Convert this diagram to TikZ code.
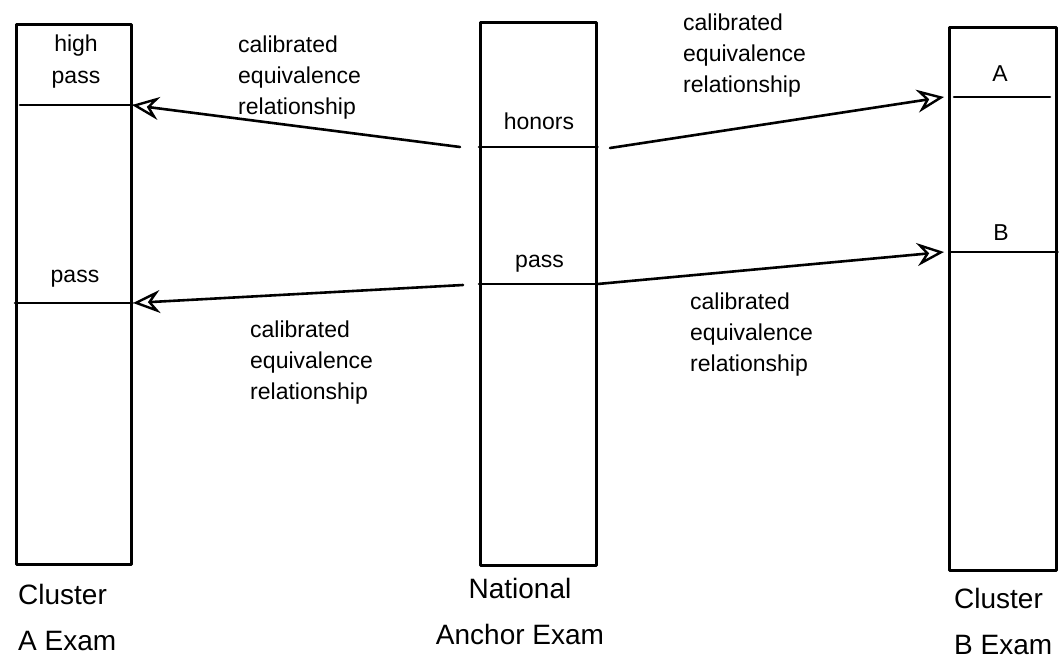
\documentclass[tikz,border=0pt]{standalone}
\usepackage{fontspec}
\setmainfont{Liberation Sans}
\usetikzlibrary{arrows.meta}

\begin{document}
\begin{tikzpicture}[
    x=1pt,
    y=-1pt,
    line cap=round,
    line join=round,
    bar/.style={draw=black, line width=2.6pt, inner sep=0pt, anchor=north west},
    cut/.style={draw=black, line width=2.6pt},
    link/.style={draw=black, line width=2.6pt, -{Stealth[open, length=27pt, width=23pt, inset=9pt, line width=2.4pt]}},
    note/.style={font=\fontsize{23}{31}\selectfont, align=left, anchor=north west, inner sep=0pt},
    band/.style={font=\fontsize{23}{32}\selectfont, align=center, inner sep=0pt},
    title/.style={font=\fontsize{28}{46}\selectfont, inner sep=0pt, anchor=north west},
  ]

  \def\hiA{105}
  \def\psA{303}
  \def\hoN{147}
  \def\psN{284}
  \def\aB{97}
  \def\bB{252}

  % Exam bars
  \node[bar, minimum width=115pt, minimum height=540pt] (barA) at (15,23) {};
  \node[bar, minimum width=116pt, minimum height=543pt] (barN) at (479,21) {};
  \node[bar, minimum width=107pt, minimum height=543pt] (barB) at (948,26) {};

  % Cut points on the bars
  \coordinate (hiAw) at (20,\hiA);
  \coordinate (hiAe) at (barA.east |- 0,\hiA);
  \coordinate (psAw) at (barA.west |- 0,\psA);
  \coordinate (psAe) at (barA.east |- 0,\psA);
  \coordinate (hoNw) at (barN.west |- 0,\hoN);
  \coordinate (hoNe) at (barN.east |- 0,\hoN);
  \coordinate (psNw) at (barN.west |- 0,\psN);
  \coordinate (psNe) at (barN.east |- 0,\psN);
  \coordinate (aBw) at (954,\aB);
  \coordinate (aBe) at (1050,\aB);
  \coordinate (bBw) at (951,\bB);
  \coordinate (bBe) at (barB.east |- 0,\bB);

  \draw[cut] (hiAw) -- (hiAe);
  \draw[cut] (psAw) -- (psAe);
  \draw[cut] (hoNw) -- (hoNe);
  \draw[cut] (psNw) -- (psNe);
  \draw[cut] (aBw) -- (aBe);
  \draw[cut] (bBw) -- (bBe);

  % Equivalence arrows
  \coordinate (hoL) at (460,\hoN);
  \coordinate (hoR) at (610,148);
  \coordinate (psL) at (463,285);
  \coordinate (tipHi) at (132,\hiA);
  \coordinate (tipPs) at (133,\psA);
  \coordinate (tipA) at (944,\aB);
  \coordinate (tipB) at (944,\bB);

  \draw[link] (hoL) -- (tipHi);
  \draw[link] (hoR) -- (tipA);
  \draw[link] (psL) -- (tipPs);
  \draw[link] (psNe) -- (tipB);

  % Arrow notes
  \node[note] (noteHi) at (238,36) {calibrated\\equivalence\\relationship};
  \node[note] (noteA) at (683,14) {calibrated\\equivalence\\relationship};
  \node[note] (notePs) at (250,321) {calibrated\\equivalence\\relationship};
  \node[note] (noteB) at (690,293) {calibrated\\equivalence\\relationship};

  % Band labels
  \node[band, anchor=north] (lblHigh) at (76,35) {high\\pass};
  \node[band, anchor=base] (lblPassA) at (75,282) {pass};
  \node[band, anchor=base] (lblHonors) at (539,130) {honors};
  \node[band, anchor=base] (lblPassN) at (539.5,267) {pass};
  \node[band, anchor=base] (lblA) at (1000,82) {A};
  \node[band, anchor=base] (lblB) at (1001,240) {B};

  % Exam names
  \node[title, align=left] (nameA) at (18,584) {Cluster\\A Exam};
  \node[title, align=center, anchor=north] (nameN) at (520,578) {National\\Anchor Exam};
  \node[title, align=left] (nameB) at (954,588) {Cluster\\B Exam};

  \path[use as bounding box] (0,0) rectangle (1059,671);
\end{tikzpicture}
\end{document}
